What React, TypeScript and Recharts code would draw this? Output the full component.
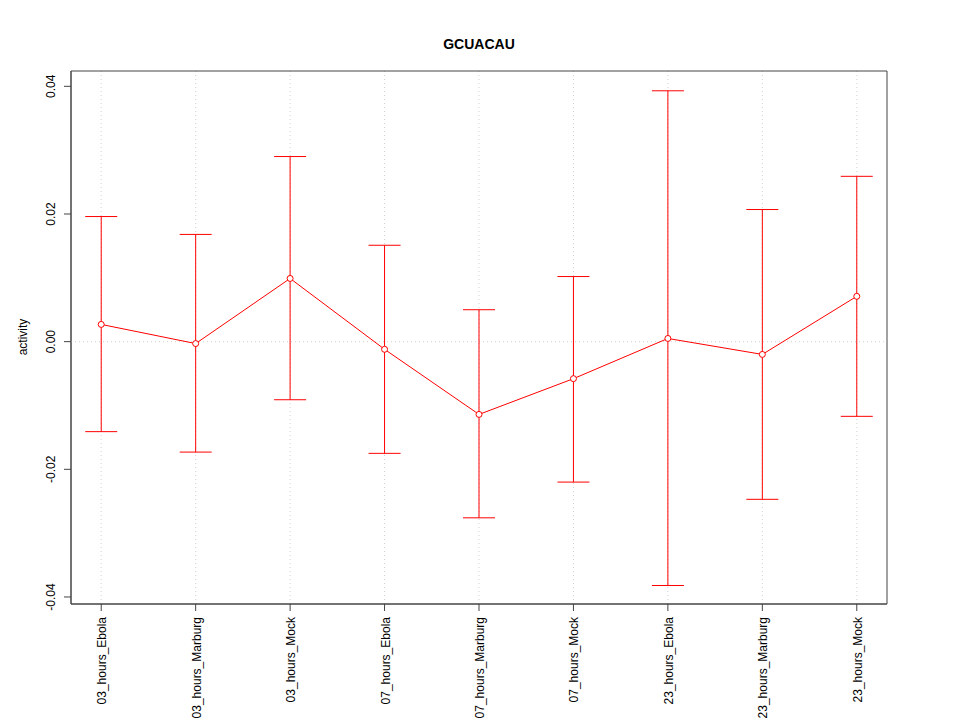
import React, { useEffect } from "react";
import {
  LineChart,
  Line,
  XAxis,
  YAxis,
  CartesianGrid,
  ReferenceLine,
  ReferenceArea,
  ErrorBar,
} from "recharts";

// values
const categories = [
  "03_hours_Ebola",
  "03_hours_Marburg",
  "03_hours_Mock",
  "07_hours_Ebola",
  "07_hours_Marburg",
  "07_hours_Mock",
  "23_hours_Ebola",
  "23_hours_Marburg",
  "23_hours_Mock",
];
const means = [0.0027, -0.0003, 0.0099, -0.0012, -0.0114, -0.0058, 0.0005, -0.002, 0.0071];
const upper = [0.0196, 0.0168, 0.029, 0.0151, 0.005, 0.0102, 0.0393, 0.0207, 0.0259];
const lower = [-0.0141, -0.0173, -0.0091, -0.0175, -0.0276, -0.022, -0.0382, -0.0247, -0.0117];
const yTicks = [-0.04, -0.02, 0, 0.02, 0.04];
const xTicks = categories.map((_, i) => i + 1);

const xDomain = [0.68, 9.32];
const yDomain = [-0.0411, 0.0424];

const FONT = '"Liberation Sans", Arial, sans-serif';
const RED = "#ff0000";
const AXIS = "#444";

const data = categories.map((name, i) => ({
  pos: i + 1,
  name,
  mean: means[i],
  err: [means[i] - lower[i], upper[i] - means[i]],
}));

const YTick = (props: any) => {
  const { x, y, payload } = props;
  const bx = x - 7;
  return (
    <text
      x={bx}
      y={y}
      transform={`rotate(-90, ${bx}, ${y})`}
      textAnchor="middle"
      fontSize={12}
      fontFamily={FONT}
      fill="#000"
    >
      {payload.value.toFixed(2)}
    </text>
  );
};

const XTick = (props: any) => {
  const { x, y, payload } = props;
  const bx = x + 5;
  const by = y + 4;
  return (
    <text
      x={bx}
      y={by}
      transform={`rotate(-90, ${bx}, ${by})`}
      textAnchor="end"
      fontSize={12}
      fontFamily={FONT}
      fill="#000"
    >
      {categories[payload.value - 1]}
    </text>
  );
};

export default function App() {
  useEffect(() => {
    document.body.style.margin = "0";
  }, []);

  return (
    <div style={{ position: "relative", width: 960, height: 720, background: "#fff" }}>
      <div
        style={{
          position: "absolute",
          left: 479,
          top: 44,
          transform: "translate(-50%, -50%)",
          fontFamily: FONT,
          fontWeight: "bold",
          fontSize: 14,
        }}
      >
        GCUACAU
      </div>
      <div
        style={{
          position: "absolute",
          left: 23,
          top: 337,
          transform: "translate(-50%, -50%) rotate(-90deg)",
          fontFamily: FONT,
          fontSize: 12,
          whiteSpace: "nowrap",
        }}
      >
        activity
      </div>
      <LineChart
        width={960}
        height={720}
        data={data}
        margin={{ top: 71, right: 73, bottom: 0, left: 0 }}
      >
        <CartesianGrid
          horizontal={false}
          verticalValues={xTicks}
          stroke="#d3d3d3"
          strokeDasharray="1 3"
        />
        <ReferenceLine y={0} stroke="#d3d3d3" strokeDasharray="1 3" />
        <ReferenceArea
          x1={xDomain[0]}
          x2={xDomain[1]}
          y1={yDomain[0]}
          y2={yDomain[1]}
          fill="none"
          fillOpacity={0}
          stroke={AXIS}
          strokeOpacity={1}
        />
        <XAxis
          dataKey="pos"
          type="number"
          domain={xDomain}
          ticks={xTicks}
          interval={0}
          height={116}
          tickSize={7}
          stroke={AXIS}
          tick={<XTick />}
        />
        <YAxis
          type="number"
          domain={yDomain}
          ticks={yTicks}
          interval={0}
          width={71}
          tickSize={7}
          stroke={AXIS}
          tick={<YTick />}
        />
        <Line
          dataKey="mean"
          stroke={RED}
          strokeWidth={1}
          dot={{ r: 3, stroke: RED, fill: "#fff", strokeWidth: 1 }}
          isAnimationActive={false}
        >
          <ErrorBar dataKey="err" width={16} stroke={RED} strokeWidth={1} direction="y" />
        </Line>
      </LineChart>
    </div>
  );
}
